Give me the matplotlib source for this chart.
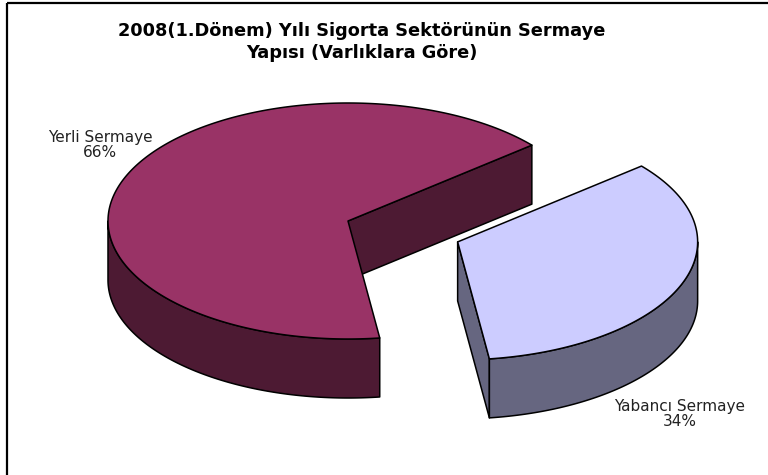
import numpy as np
import matplotlib
matplotlib.use("Agg")
import matplotlib.pyplot as plt
from matplotlib.patches import Polygon

# Shares of sector assets by capital origin (%)
labels = ["Yerli Sermaye", "Yabancı Sermaye"]
shares = [66, 34]
top_colors = ["#993366", "#CCCCFF"]
side_colors = ["#4D1A33", "#666680"]
explode = [0.0, 0.49]

title = "2008(1.Dönem) Yılı Sigorta Sektörünün Sermaye\nYapısı (Varlıklara Göre)"

# 3-D pie geometry in pixel space
W, H = 768, 475
cx, cy = 348.0, 221.0
rx, ry = 240.0, 118.0
depth = 59.0
start_angle = 40.0

fig = plt.figure(figsize=(W / 100, H / 100), dpi=100)
ax = fig.add_axes([0, 0, 1, 1])
ax.set_xlim(0, W)
ax.set_ylim(H, 0)
ax.axis("off")


def rim(theta_deg, ox, oy, dz=0.0):
    t = np.radians(theta_deg)
    return np.column_stack([cx + ox + rx * np.cos(t), cy + oy - ry * np.sin(t) + dz])


def draw_slice(a0, a1, ox, oy, top_c, side_c):
    apex = np.array([[cx + ox, cy + oy]])
    kw = dict(edgecolor="black", linewidth=1.1, joinstyle="round")
    # radial cut faces that turn toward the viewer
    for a, normal in ((a0, a0 - 90), (a1, a1 + 90)):
        if np.sin(np.radians(normal)) < 0:
            p = rim([a], ox, oy)
            face = np.vstack([apex, p, p + [0, depth], apex + [0, depth]])
            ax.add_patch(Polygon(face, closed=True, facecolor=side_c, **kw))
    # outer wall on the front half of the ellipse
    for base in (0.0, 360.0):
        lo = max(a0, 180.0 + base)
        hi = min(a1, 360.0 + base)
        if hi > lo:
            th = np.linspace(lo, hi, 200)
            upper = rim(th, ox, oy)
            lower = rim(th[::-1], ox, oy, depth)
            ax.add_patch(Polygon(np.vstack([upper, lower]), closed=True,
                                 facecolor=side_c, **kw))
    # top surface
    th = np.linspace(a0, a1, 400)
    top = np.vstack([apex, rim(th, ox, oy)])
    ax.add_patch(Polygon(top, closed=True, facecolor=top_c, **kw))


total = float(sum(shares))
a = start_angle
for lab, val, tc, sc, ex in zip(labels, shares, top_colors, side_colors, explode):
    span = 360.0 * val / total
    mid = np.radians(a + span / 2)
    ox = ex * rx * np.cos(mid)
    oy = -ex * ry * np.sin(mid)
    draw_slice(a, a + span, ox, oy, tc, sc)
    a += span

# data labels
label_pos = [(100, 145), (680, 414)]
for lab, val, (lx, ly) in zip(labels, shares, label_pos):
    ax.text(lx, ly, f"{lab}\n{val}%", ha="center", va="center",
            fontsize=11, color="#222222", family="DejaVu Sans", linespacing=1.08)

ax.text(362, 42, title, ha="center", va="center", fontsize=12.8,
        fontweight="bold", family="DejaVu Sans", linespacing=1.22, color="black")

# chart frame
ax.plot([7, 7], [3, H + 5], color="black", lw=1.6, solid_capstyle="butt")
ax.plot([7, W + 5], [3, 3], color="black", lw=1.6, solid_capstyle="butt")

fig.savefig("out.png", dpi=100, facecolor="white")
